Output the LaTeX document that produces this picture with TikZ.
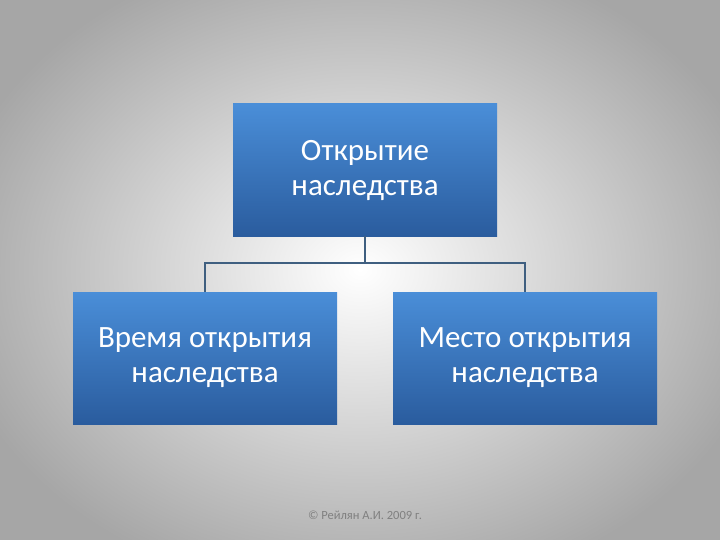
\documentclass[tikz,border=0pt]{standalone}
\usepackage{fontspec}
\setmainfont{Carlito}
\usetikzlibrary{shadings}
\definecolor{bt}{HTML}{4A8ED8}
\definecolor{bb}{HTML}{2A5C9E}
\definecolor{ln}{HTML}{3F5F80}
\tikzset{box/.style={minimum width=264pt,minimum height=132pt,inner sep=0pt,top color=bt,bottom color=bb,draw=none,text=white,font=\fontsize{31}{35}\selectfont,align=center},
conn/.style={draw=ln,line width=1.2pt}}
\begin{document}
\begin{tikzpicture}[x=1pt,y=-1pt]
\useasboundingbox (0,0) rectangle (720,540);
\shade[inner color=white,outer color=gray!70,shading=radial] (-60,-60) rectangle (780,600);
\node[box] (top) at (365,170) {Открытие\\наследства};
\node[box] (l) at (205,358) {Время открытия\\наследства};
\node[box] (r) at (525,358) {Место открытия\\наследства};
\coordinate (j) at (365,263);
\draw[conn] (top.south) -- (j) -| (l.north);
\draw[conn] (j) -| (r.north);
\node[text=gray,font=\fontsize{12.5}{14}\selectfont] (c) at (365,515) {© Рейлян А.И. 2009 г.};
\end{tikzpicture}
\end{document}
